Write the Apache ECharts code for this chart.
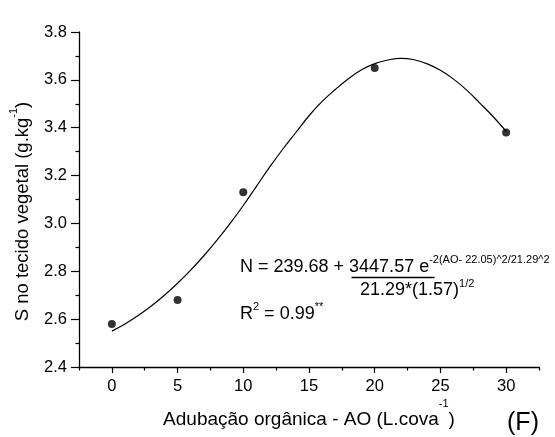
<!DOCTYPE html>
<html>
<head>
<meta charset="utf-8">
<script src="https://cdn.jsdelivr.net/npm/echarts@6/dist/echarts.min.js"></script>
<style>
  html, body { margin: 0; padding: 0; background: #fff; }
  #chart { width: 555px; height: 437px; }
</style>
</head>
<body>
<div id="chart"></div>
<script>
// eixo x: rótulos principais e ticks secundários
const xTicks = [0, 5, 10, 15, 20, 25, 30]
const xMinorTicks = [-2.5, 2.5, 7.5, 12.5, 17.5, 22.5, 27.5, 32.5]

// pontos observados
const doseAO = [0, 5, 10, 20, 30]
const teorS = [2.58, 2.68, 3.13, 3.65, 3.38]

// curva ajustada
const curveAO = [0, 1, 2, 3, 4, 5, 6, 7, 8, 9, 10, 11, 12, 13, 14, 15,
  16, 17, 18, 19, 20, 21, 22, 23, 24, 25, 26, 27, 28, 29, 30]
const curveS = [2.55, 2.58, 2.615, 2.655, 2.70, 2.75, 2.805, 2.865, 2.93, 3.0, 3.075,
  3.155, 3.235, 3.31, 3.38, 3.45, 3.51, 3.56, 3.605, 3.642, 3.668, 3.683,
  3.69, 3.684, 3.667, 3.64, 3.603, 3.557, 3.503, 3.447, 3.385]

const FONT = "'Liberation Sans', Arial, sans-serif"

const chart = echarts.init(document.getElementById('chart'))

// textos com sobrescrito
function supText(rich, x, y, opts) {
  return Object.assign({
    type: 'text',
    x: x,
    y: y,
    style: {
      text: rich,
      align: opts.align || 'left',
      verticalAlign: 'middle',
      fontFamily: FONT,
      fill: '#000',
      rich: opts.rich
    }
  }, opts.extra || {})
}

function richStyle(size, lineHeight) {
  return {
    n: { fontSize: size, fontFamily: FONT, fill: '#000', lineHeight: lineHeight },
    s: { fontSize: 11, fontFamily: FONT, fill: '#000', lineHeight: 12, verticalAlign: 'top' }
  }
}

const option = {
  backgroundColor: '#fff',
  animation: false,
  grid: { left: 79, right: 16, top: 32, bottom: 70 },
  xAxis: [
    {
      type: 'value',
      position: 'bottom',
      min: -2.5,
      max: 32.5,
      splitLine: { show: false },
      axisLine: { show: true, onZero: false, lineStyle: { color: '#000', width: 1.3 } },
      axisTick: { show: true, customValues: xTicks, length: 6, lineStyle: { color: '#000', width: 1.2 } },
      axisLabel: { customValues: xTicks, margin: 11, fontSize: 16.5, fontFamily: FONT, color: '#000' }
    },
    {
      type: 'value',
      position: 'bottom',
      min: -2.5,
      max: 32.5,
      splitLine: { show: false },
      axisLine: { show: false, onZero: false },
      axisTick: { show: true, customValues: xMinorTicks, length: 3.5, lineStyle: { color: '#000', width: 1.2 } },
      axisLabel: { show: false }
    }
  ],
  yAxis: {
    type: 'value',
    min: 2.4,
    max: 3.8,
    interval: 0.2,
    splitLine: { show: false },
    axisLine: { show: true, onZero: false, lineStyle: { color: '#000', width: 1.3 } },
    axisTick: { show: true, length: 8, lineStyle: { color: '#000', width: 1.2 } },
    minorTick: { show: true, splitNumber: 2, length: 3.5, lineStyle: { color: '#000', width: 1.2 } },
    axisLabel: {
      margin: 12,
      fontSize: 16.5,
      fontFamily: FONT,
      color: '#000',
      formatter: v => v.toFixed(1)
    }
  },
  series: [
    {
      type: 'line',
      smooth: 0.4,
      showSymbol: false,
      lineStyle: { color: '#000', width: 1.2 },
      data: curveAO.map((x, i) => [x, curveS[i]]),
      z: 2
    },
    {
      type: 'scatter',
      symbol: 'circle',
      symbolSize: 8,
      itemStyle: { color: '#000' },
      data: doseAO.map((x, i) => [x, teorS[i]]),
      z: 3
    }
  ],
  graphic: [
    supText('{n|S no tecido vegetal (g.kg}{s|-1}{n|)}', 23, 211.5, {
      rich: richStyle(18.5, 30),
      align: 'center',
      extra: { rotation: Math.PI / 2 }
    }),
    supText('{n|Adubação orgânica - AO (L.cova}{s|-1}{n|)}', 309, 420, {
      rich: richStyle(19, 44),
      align: 'center'
    }),
    {
      type: 'text',
      x: 523,
      y: 423,
      style: { text: '(F)', fontSize: 25, fontFamily: FONT, fill: '#000', align: 'center', verticalAlign: 'middle' }
    },
    supText('{n|N = 239.68 + 3447.57 e}{s|-2(AO- 22.05)^2/21.29^2}', 240, 267, { rich: richStyle(18, 26) }),
    {
      type: 'line',
      shape: { x1: 351.5, y1: 277.5, x2: 434.5, y2: 277.5 },
      style: { stroke: '#000', lineWidth: 1.5 }
    },
    supText('{n|21.29*(1.57)}{s|1/2}', 360, 290, { rich: richStyle(18, 24) }),
    supText('{n|R}{s|2}{n| = 0.99}{s|**}', 240, 314, { rich: richStyle(18, 26) })
  ]
}

chart.setOption(option)
</script>
</body>
</html>
